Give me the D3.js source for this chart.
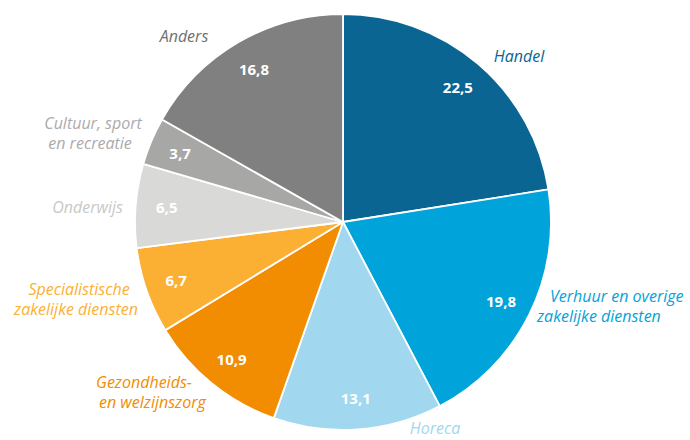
<!DOCTYPE html>
<html>
<head>
<meta charset="utf-8">
<script src="https://cdn.jsdelivr.net/npm/d3@7"></script>
<style>
  html, body { margin: 0; padding: 0; background: #fff; }
  svg { display: block; }
</style>
</head>
<body>
<svg id="chart" width="690" height="440"></svg>
<script>
// ---- data ----
const categories = ["Handel", "Verhuur en overige zakelijke diensten", "Horeca", "Gezondheids- en welzijnszorg",
  "Specialistische zakelijke diensten", "Onderwijs", "Cultuur, sport en recreatie", "Anders"];
const values = [22.5, 19.8, 13.1, 10.9, 6.7, 6.5, 3.7, 16.8];
const labelLines = [
  ["Handel"],
  ["Verhuur en overige", "zakelijke diensten"],
  ["Horeca"],
  ["Gezondheids-", "en welzijnszorg"],
  ["Specialistische", "zakelijke diensten"],
  ["Onderwijs"],
  ["Cultuur, sport", "en recreatie"],
  ["Anders"]
];
const sliceColors = ["#0a6592", "#00a3da", "#a1d7ef", "#f28c00", "#fbb034", "#d9d9d8", "#a7a7a6", "#7f807f"];
const textColors  = ["#0a6592", "#00a3da", "#a1d7ef", "#f28c00", "#fbb034", "#c8c8c8", "#ababab", "#6f6f6f"];

// ---- layout ----
const W = 690, H = 440;
const cx = 343, cy = 222, R = 208;
const svg = d3.select("#chart");
const g = svg.append("g").attr("transform", `translate(${cx},${cy})`);

const pie = d3.pie().sort(null).value(d => d.v);
const arcs = pie(values.map((v, i) => ({ v, i })));
const arc = d3.arc().innerRadius(0).outerRadius(R);
const labelArc = d3.arc().innerRadius(R * 0.85).outerRadius(R * 0.85);

g.selectAll("path.slice").data(arcs).enter().append("path")
  .attr("class", "slice")
  .attr("d", arc)
  .attr("fill", d => sliceColors[d.data.i])
  .attr("stroke", "#fff")
  .attr("stroke-width", 1.8)
  .attr("stroke-linejoin", "round");

const fmt = v => String(v).replace(".", ",");
g.selectAll("text.val").data(arcs).enter().append("text")
  .attr("class", "val")
  .attr("transform", d => `translate(${labelArc.centroid(d)})`)
  .attr("text-anchor", "middle")
  .attr("dy", "0.35em")
  .attr("fill", "#fff")
  .attr("font-family", "'Open Sans', sans-serif")
  .attr("font-weight", 700)
  .attr("font-size", 15)
  .text(d => fmt(d.data.v));

// outer category labels: absolute anchor per line (x, baseline y), anchor
const labelPlacement = [
  { anchor: "middle", pos: [[519, 62]] },
  { anchor: "start",  pos: [[550, 302], [537, 322]] },
  { anchor: "middle", pos: [[435, 434]] },
  { anchor: "start",  pos: [[96, 388], [99, 408]] },
  { anchor: "middle", pos: [[79, 295], [76, 315]] },
  { anchor: "end",    pos: [[123, 213]] },
  { anchor: "middle", pos: [[93, 129], [90, 149]] },
  { anchor: "middle", pos: [[184, 42]] }
];

labelLines.forEach((lines, i) => {
  const p = labelPlacement[i];
  lines.forEach((line, j) => {
    svg.append("text")
      .attr("x", p.pos[j][0])
      .attr("y", p.pos[j][1])
      .attr("text-anchor", p.anchor)
      .attr("fill", textColors[i])
      .attr("font-family", "'Open Sans', sans-serif")
      .attr("font-style", "italic")
      .attr("font-size", 16)
      .text(line);
  });
});
</script>
</body>
</html>
